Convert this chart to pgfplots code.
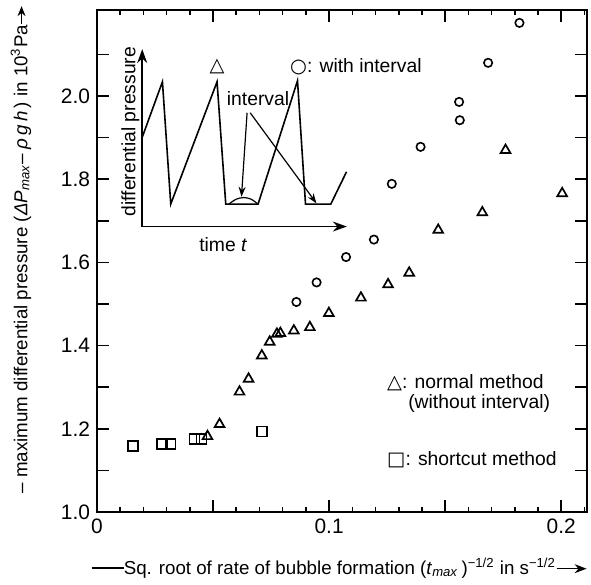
\documentclass[border=0pt]{standalone}
\usepackage{pgfplots}
\pgfplotsset{compat=1.18}
\usetikzlibrary{arrows.meta,calc}
\usepackage{fontspec}
\setmainfont{Liberation Sans}
\newfontfamily\symf{DejaVu Sans}
\newcommand{\rarrow}{\tikz[baseline=-0.6ex]\draw[line width=0.7pt,-{Stealth[length=6pt,width=4.5pt]}] (0,0)--(15bp,0);}
\newcommand{\sarrow}{\tikz[baseline=-0.6ex]\draw[line width=0.7pt,-{Stealth[length=5pt,width=4pt]}] (0,0)--(9bp,0);}
\newcommand{\lline}{\rule[0.6ex]{16bp}{0.7pt}}
\newcommand{\lfont}{\fontsize{9.7}{11.5}\selectfont}
\newcommand{\xlfont}{\fontsize{9.4}{11.5}\selectfont}
\begin{document}
\begin{tikzpicture}
\begin{axis}[
  width=245bp, height=251bp, scale only axis,
  xmin=0, xmax=0.2111, ymin=1.0, ymax=2.207,
  xtick={0,0.05,0.1,0.15,0.2}, xticklabels={0,,0.1,,0.2},
  minor xtick={0.01,0.02,0.03,0.04,0.06,0.07,0.08,0.09,0.11,0.12,0.13,0.14,0.16,0.17,0.18,0.19,0.21},
  ytick={1.0,1.1,1.2,1.3,1.4,1.5,1.6,1.7,1.8,1.9,2.0,2.1},
  yticklabels={1.0,,1.2,,1.4,,1.6,,1.8,,2.0,},
  tick align=inside, major tick length=6bp, minor tick length=2.5bp,
  axis line style={line width=1bp},
  every tick/.style={line width=0.8bp, black},
  tick label style={font=\fontsize{10.5}{12}\selectfont},
  xlabel={\lline Sq. root of rate of bubble formation (\textit{t}\textsubscript{\textit{max}}\,)\textsuperscript{−1/2} in s\textsuperscript{−1/2}\rarrow},
  xlabel style={at={(axis description cs:0.495,-0.1116)}, anchor=center, font=\xlfont},
  ylabel={– maximum differential pressure (\textit{ΔP}\textsubscript{\textit{max}}– \textit{ρ\,g\,h}\,) in 10\textsuperscript{3}Pa\sarrow},
  ylabel style={at={(axis description cs:-0.155,0.523)}, anchor=center, font=\xlfont},
]
% with interval (circles)
\addplot[only marks, mark=o, mark size=2.1bp, mark options={line width=0.8bp}] coordinates {
(0.0859,1.505) (0.0946,1.552) (0.1073,1.613) (0.1193,1.655) (0.1270,1.789)
(0.1394,1.878) (0.1563,1.942) (0.1560,1.986) (0.1685,2.080) (0.1820,2.176)};
% normal method (triangles)
\addplot[only marks, mark=triangle, mark size=2.8bp, mark options={line width=0.85bp}] coordinates {
(0.0476,1.182) (0.0528,1.211) (0.0614,1.289) (0.0653,1.320) (0.0710,1.376)
(0.0744,1.409) (0.0775,1.428) (0.0790,1.430) (0.0848,1.436) (0.0917,1.444)
(0.0999,1.478) (0.1137,1.515) (0.1254,1.547) (0.1345,1.575) (0.1470,1.678)
(0.1660,1.720) (0.1760,1.870) (0.2004,1.766)};
% shortcut method (squares)
\addplot[only marks, mark=square, mark size=2.5bp, mark options={line width=0.8bp}] coordinates {
(0.0155,1.159) (0.0279,1.164) (0.0316,1.164) (0.0420,1.175) (0.0450,1.175) (0.0711,1.194)};
% inset axes
\addplot[line width=0.8bp, -{Stealth[length=7pt,width=5pt]}] coordinates {(0.01948,1.6863) (0.01948,2.1130)};
\addplot[line width=0.8bp, -{Stealth[length=7pt,width=5pt]}] coordinates {(0.01948,1.6863) (0.10763,1.6863)};
% inset sawtooth
\addplot[line width=0.8bp] coordinates {
(0.01957,1.9022) (0.02819,2.0344) (0.03177,1.7404) (0.05172,2.0344) (0.05547,1.7404)
(0.0694,1.7404) (0.08638,2.0368) (0.08983,1.7404) (0.10073,1.7404) (0.1075,1.818)};
\addplot[line width=0.6bp, smooth] coordinates {
(0.0568,1.7404) (0.0600,1.7522) (0.0632,1.7560) (0.0664,1.7522) (0.0693,1.7404)};
\addplot[line width=0.6bp, -{Stealth[length=5pt,width=3.5pt]}] coordinates {(0.06466,1.9599) (0.06224,1.7579)};
\addplot[line width=0.6bp, -{Stealth[length=5pt,width=3.5pt]}] coordinates {(0.0660,1.9599) (0.09457,1.7420)};
% texts
\node[anchor=west, font=\lfont, inner sep=0] at (axis cs:0.08306,2.0697) {{\symf ○}: with interval};
\node[anchor=west, font=\lfont, inner sep=0] at (axis cs:0.12487,1.3101) {{\symf △}: normal method};
\node[anchor=west, font=\lfont, inner sep=0] at (axis cs:0.13392,1.2620) {(without interval)};
\node[anchor=west, font=\lfont, inner sep=0] at (axis cs:0.12487,1.1250) {{\symf □}: shortcut method};
\node[font=\lfont, inner sep=0] at (axis cs:0.05172,2.0704) {{\symf △}};
\node[anchor=west, font=\lfont, inner sep=0] at (axis cs:0.05578,1.9928) {interval};
\node[font=\lfont, inner sep=0, rotate=90] at (axis cs:0.0144,1.9147) {differential pressure};
\node[font=\lfont, inner sep=0] at (axis cs:0.0544,1.6418) {time \textit{t}};
\coordinate (BL) at (rel axis cs:0,0);
\coordinate (TR) at (rel axis cs:1,1);
\end{axis}
\pgfresetboundingbox
\path (BL) ++(-48.5bp,-36.5bp) rectangle ($(TR)+(2bp,5bp)$);
\end{tikzpicture}
\end{document}
